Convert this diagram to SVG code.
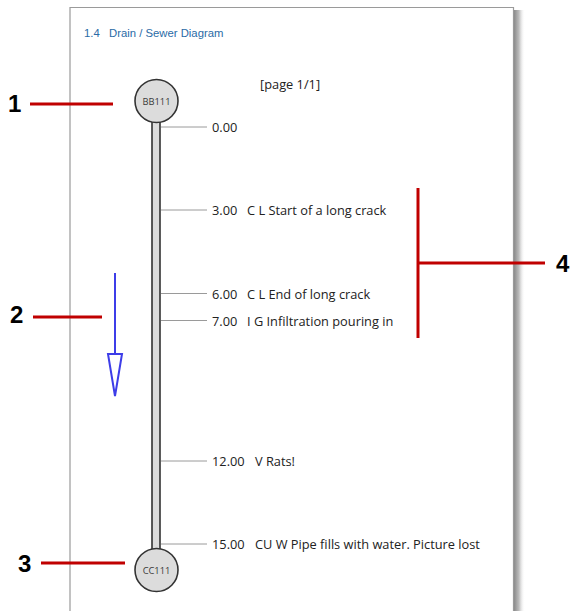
<svg xmlns="http://www.w3.org/2000/svg" width="571" height="611" viewBox="0 0 571 611">
<defs>
<linearGradient id="shadow" x1="0" y1="0" x2="1" y2="0">
<stop offset="0" stop-color="#808080"/>
<stop offset="0.5" stop-color="#bdbdbd"/>
<stop offset="1" stop-color="#ffffff" stop-opacity="0"/>
</linearGradient>
</defs>
<style>
.lbl{font-family:"Open Sans","Noto Sans",sans-serif;font-size:12.8px;fill:#222}
.node{font-family:"Open Sans","Noto Sans",sans-serif;font-size:9.3px;fill:#3a3a3a;text-anchor:middle}
.num{font-family:"Liberation Sans",Arial,sans-serif;font-size:24px;font-weight:bold;fill:#000}
.tick{stroke:#9a9a9a;stroke-width:1;fill:none}
.red{stroke:#c00000;stroke-width:3;fill:none}
.mh{fill:#dcdcdc;stroke:#333;stroke-width:1.6}
.blue{stroke:#3d3de8;stroke-width:2}
</style>
<rect width="571" height="611" fill="#fff"/>
<g id="page">
<rect x="513" y="10" width="12" height="601" fill="url(#shadow)"/>
<path d="M70 611 V7.5 H513.5 V611" fill="#fff" stroke="#9a9a9a" stroke-width="1.2"/>
<text x="84" y="37" font-family="Liberation Sans,Arial,sans-serif" font-size="11.3" fill="#2a6ba6" xml:space="preserve">1.4   Drain / Sewer Diagram</text>
<text x="260" y="89" class="lbl">[page 1/1]</text>
</g>
<g id="connectors">
<g id="pipe">
<rect x="152" y="118" width="8" height="436" fill="#dcdcdc" stroke="#333" stroke-width="1.6"/>
</g>
<g id="ticks">
<line class="tick" x1="161" y1="127" x2="207" y2="127"/>
<line class="tick" x1="161" y1="210" x2="207" y2="210"/>
<line class="tick" x1="161" y1="293.5" x2="207" y2="293.5"/>
<line class="tick" x1="161" y1="320.5" x2="207" y2="320.5"/>
<line class="tick" x1="161" y1="461" x2="207" y2="461"/>
<line class="tick" x1="161" y1="544" x2="207" y2="544"/>
</g>
</g>
<g id="BB111">
<circle class="mh" cx="156.5" cy="101" r="21.5"/>
<text x="156.5" y="104.5" class="node">BB111</text>
</g>
<g id="CC111">
<circle class="mh" cx="156.5" cy="570" r="21.5"/>
<text x="156.5" y="573.5" class="node">CC111</text>
</g>
<g id="labels">
<text x="212" y="132" class="lbl">0.00</text>
<text x="212" y="215" class="lbl">3.00</text><text x="247" y="215" class="lbl">C L Start of a long crack</text>
<text x="212" y="298.5" class="lbl">6.00</text><text x="247" y="298.5" class="lbl">C L End of long crack</text>
<text x="212" y="325.5" class="lbl">7.00</text><text x="247" y="325.5" class="lbl">I G Infiltration pouring in</text>
<text x="212" y="466" class="lbl">12.00</text><text x="255" y="466" class="lbl">V Rats!</text>
<text x="212" y="549" class="lbl">15.00</text><text x="255" y="549" class="lbl">CU W Pipe fills with water. Picture lost</text>
</g>
<g id="flow-arrow">
<line class="blue" x1="115" y1="273" x2="115" y2="354"/>
<polygon class="blue" points="108,354 122,354 115,396" fill="#fff"/>
</g>
<g id="callouts">
<line class="red" x1="30" y1="104" x2="113" y2="104"/>
<text x="8" y="112" class="num">1</text>
<line class="red" x1="33" y1="317" x2="102" y2="317"/>
<text x="10" y="323" class="num">2</text>
<line class="red" x1="41" y1="563" x2="125" y2="563"/>
<text x="18" y="572" class="num">3</text>
<line class="red" x1="418" y1="188" x2="418" y2="338"/>
<line class="red" x1="418" y1="263" x2="545" y2="263"/>
<text x="556" y="272" class="num">4</text>
</g>
</svg>
